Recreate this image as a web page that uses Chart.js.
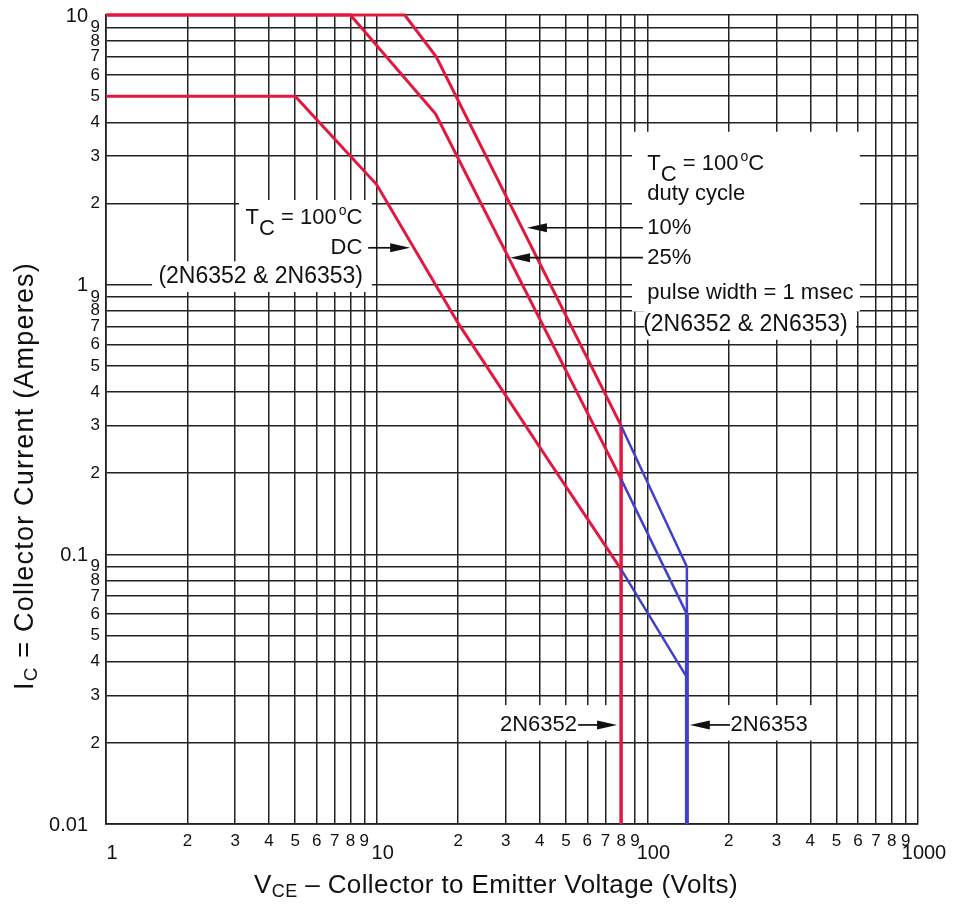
<!DOCTYPE html>
<html>
<head>
<meta charset="utf-8">
<script src="https://cdn.jsdelivr.net/npm/chart.js@4.4.1/dist/chart.umd.min.js"></script>
<style>
  html, body { margin: 0; padding: 0; background: #fff; }
</style>
</head>
<body>
<canvas id="myChart" width="953" height="905"></canvas>
<script>
// tick labels
const xMajor = [1, 10, 100, 1000];
const xMajorLabels = ['1', '10', '100', '1000'];
const yMajor = [0.01, 0.1, 1, 10];
const yMajorLabels = ['0.01', '0.1', '1', '10'];
const minorDigits = [2, 3, 4, 5, 6, 7, 8, 9];

// DC, Tc = 100 C
const dcVolts = [1, 5, 10, 20, 40, 80];
const dcAmps = [5, 5, 2.35, 0.72, 0.25, 0.088];
// 25% duty cycle
const d25Volts = [1, 8, 16.5, 80];
const d25Amps = [10, 10, 4.3, 0.19];
// 10% duty cycle
const d10Volts = [1, 12.7, 16.6, 80];
const d10Amps = [10, 10, 7, 0.3];
// 2N6352 limit (80 V)
const lim52Volts = [80, 80];
const lim52Amps = [0.3, 0.01];
// 2N6353 extension up to 140 V
const ext10Volts = [80, 140, 140];
const ext10Amps = [0.3, 0.09, 0.06];
const ext25Volts = [80, 140];
const ext25Amps = [0.19, 0.06];
const extDcVolts = [80, 140];
const extDcAmps = [0.088, 0.035];
const lim53Volts = [140, 140];
const lim53Amps = [0.06, 0.01];

const RED = '#e4173e';
const BLUE = '#4040cc';
const FONT = "'Liberation Sans', Arial, sans-serif";
const gridColor = '#222';

Chart.defaults.font.family = FONT;

function pts(xs, ys) {
  return xs.map((v, i) => ({ x: v, y: ys[i] }));
}

function decadeTicks(majors) {
  const out = [];
  majors.forEach((m, i) => {
    out.push(m);
    if (i < majors.length - 1) {
      minorDigits.forEach(d => out.push(+(m * d).toPrecision(3)));
    }
  });
  return out.map(v => ({ value: v }));
}

function minorLabel(value) {
  const e = Math.floor(Math.log10(value) + 1e-9);
  const d = Math.round(value / Math.pow(10, e));
  return d === 1 ? '' : String(d);
}

// white areas behind the notes, in data units [x1, x2, yTop, yBottom]
const maskBoxes = [
  [3.1, 9.6, 2.06, 0.94],
  [1.48, 9.6, 1.22, 0.94],
  [87.8, 610, 3.69, 0.795],
  [97.5, 590, 0.8, 0.625],
  [26.2, 77.5, 0.0276, 0.0204],
  [143, 420, 0.0276, 0.0204]
];

function drawTc(ctx, x, yMid, alignRight) {
  const big = '22px ' + FONT, small = '14px ' + FONT;
  const parts = [
    { t: 'T', f: big, dy: 0, gap: 0 },
    { t: 'C', f: big, dy: 11, gap: 0 },
    { t: ' = 100', f: big, dy: 0, gap: 0 },
    { t: 'o', f: small, dy: -9, gap: 2 },
    { t: 'C', f: big, dy: 0, gap: 0 }
  ];
  let total = 0;
  parts.forEach(p => { ctx.font = p.f; p.w = ctx.measureText(p.t).width; total += p.w + p.gap; });
  let cx = alignRight ? x - total : x;
  const base = yMid + 8;
  ctx.textAlign = 'left';
  ctx.textBaseline = 'alphabetic';
  parts.forEach(p => {
    cx += p.gap;
    ctx.font = p.f;
    ctx.fillText(p.t, cx, base + p.dy);
    cx += p.w;
  });
}

function arrow(ctx, x0, x1, yy) {
  const dir = Math.sign(x1 - x0);
  ctx.lineWidth = 1.7;
  ctx.beginPath();
  ctx.moveTo(x0, yy);
  ctx.lineTo(x1 - dir * 14, yy);
  ctx.stroke();
  ctx.beginPath();
  ctx.moveTo(x1, yy);
  ctx.lineTo(x1 - dir * 20, yy - 4.5);
  ctx.lineTo(x1 - dir * 20, yy + 4.5);
  ctx.closePath();
  ctx.fill();
}

// draws pieces of text (for subscripts) centred on 0 along the baseline
function drawPieces(ctx, parts, cxMid, base, spacing) {
  let tw = 0;
  parts.forEach(p => {
    ctx.font = p.f;
    ctx.letterSpacing = spacing + 'px';
    p.w = ctx.measureText(p.t).width;
    tw += p.w;
  });
  let cx = cxMid - tw / 2;
  ctx.textAlign = 'left';
  ctx.textBaseline = 'alphabetic';
  parts.forEach(p => {
    ctx.font = p.f;
    ctx.letterSpacing = spacing + 'px';
    ctx.fillText(p.t, cx, base + p.dy);
    cx += p.w;
  });
  ctx.letterSpacing = '0px';
}

const notesPlugin = {
  id: 'notes',
  beforeDatasetsDraw(chart) {
    const { ctx } = chart;
    const x = chart.scales.x, y = chart.scales.y;
    ctx.save();
    ctx.fillStyle = '#fff';
    maskBoxes.forEach(m => {
      const x1 = x.getPixelForValue(m[0]), x2 = x.getPixelForValue(m[1]);
      const y1 = y.getPixelForValue(m[2]), y2 = y.getPixelForValue(m[3]);
      ctx.fillRect(x1, y1, x2 - x1, y2 - y1);
    });
    ctx.restore();
  },
  afterDatasetsDraw(chart) {
    const { ctx } = chart;
    const x = chart.scales.x, y = chart.scales.y;
    const px = v => x.getPixelForValue(v), py = v => y.getPixelForValue(v);
    ctx.save();
    ctx.fillStyle = '#111';
    ctx.strokeStyle = '#111';

    // left note (DC)
    drawTc(ctx, px(8.85), py(1.8), true);
    ctx.font = '22px ' + FONT;
    ctx.textAlign = 'right';
    ctx.textBaseline = 'middle';
    ctx.fillText('DC', px(8.85), py(1.37));
    ctx.font = '23px ' + FONT;
    ctx.fillText('(2N6352 & 2N6353)', px(8.9), py(1.07));
    arrow(ctx, px(9.3), px(13.3), py(1.37));

    // right note (pulsed)
    drawTc(ctx, px(100), py(2.855), false);
    ctx.font = '22px ' + FONT;
    ctx.textAlign = 'left';
    ctx.textBaseline = 'middle';
    ctx.fillText('duty cycle', px(100), py(2.17));
    ctx.fillText('10%', px(100), py(1.626));
    ctx.fillText('25%', px(100), py(1.259));
    ctx.fillText('pulse width = 1 msec', px(100), py(0.934));
    ctx.font = '23px ' + FONT;
    ctx.fillText('(2N6352 & 2N6353)', px(96.5), py(0.711));
    arrow(ctx, px(96.3), px(35.9), py(1.626));
    arrow(ctx, px(96.3), px(31.1), py(1.259));

    // device limits
    ctx.font = '22px ' + FONT;
    ctx.textAlign = 'right';
    ctx.fillText('2N6352', px(55), py(0.0233));
    arrow(ctx, px(55.5), px(77.3), py(0.0233));
    ctx.textAlign = 'left';
    ctx.fillText('2N6353', px(203), py(0.0233));
    arrow(ctx, px(202), px(143.5), py(0.0233));
    ctx.restore();
  },
  afterDraw(chart) {
    const { ctx } = chart;
    const x = chart.scales.x, y = chart.scales.y;
    ctx.save();
    ctx.fillStyle = '#111';
    ctx.font = '20px ' + FONT;
    ctx.textBaseline = 'middle';
    ctx.textAlign = 'center';
    xMajor.forEach((v, i) => ctx.fillText(xMajorLabels[i], x.getPixelForValue(v) + 6, 853));
    ctx.textAlign = 'right';
    yMajor.forEach((v, i) => ctx.fillText(yMajorLabels[i], 88, y.getPixelForValue(v) + 1));

    // x title with subscript
    drawPieces(ctx, [
      { t: 'V', f: '26px ' + FONT, dy: 0 },
      { t: 'CE', f: '18px ' + FONT, dy: 4 },
      { t: ' \u2013 Collector to Emitter Voltage (Volts)', f: '26px ' + FONT, dy: 0 }
    ], 496, 893, 0.4);

    // y title, rotated
    ctx.translate(33, 476);
    ctx.rotate(-Math.PI / 2);
    drawPieces(ctx, [
      { t: 'I', f: '27px ' + FONT, dy: 0 },
      { t: 'C', f: '19px ' + FONT, dy: 4 },
      { t: ' = Collector Current (Amperes)', f: '27px ' + FONT, dy: 0 }
    ], 0, 0, 1.2);
    ctx.restore();
  }
};

function line(xs, ys, color, width) {
  return {
    data: pts(xs, ys),
    showLine: true,
    borderColor: color,
    backgroundColor: color,
    borderWidth: width,
    pointRadius: 0,
    tension: 0,
    clip: false
  };
}

new Chart(document.getElementById('myChart'), {
  type: 'scatter',
  data: {
    datasets: [
      line(ext10Volts, ext10Amps, BLUE, 2.5),
      line(ext25Volts, ext25Amps, BLUE, 2.5),
      line(extDcVolts, extDcAmps, BLUE, 2.5),
      line(lim53Volts, lim53Amps, BLUE, 4),
      line(dcVolts, dcAmps, RED, 3),
      line(d25Volts, d25Amps, RED, 3),
      line(d10Volts, d10Amps, RED, 3),
      line(lim52Volts, lim52Amps, RED, 3.5)
    ]
  },
  options: {
    responsive: false,
    animation: false,
    layout: { padding: { top: 15, right: 35, left: 0, bottom: 0 } },
    plugins: {
      legend: { display: false },
      tooltip: { enabled: false }
    },
    scales: {
      x: {
        type: 'logarithmic',
        min: 1,
        max: 1000,
        afterBuildTicks: s => { s.ticks = decadeTicks(xMajor); },
        afterFit: s => { s.height = 81; s.paddingLeft = 0; s.paddingRight = 0; },
        grid: { color: gridColor, lineWidth: 1.5, drawTicks: false },
        border: { color: gridColor, width: 1.7 },
        ticks: {
          autoSkip: false,
          maxRotation: 0,
          padding: 7,
          color: '#111',
          font: { size: 17 },
          callback: minorLabel
        }
      },
      y: {
        type: 'logarithmic',
        min: 0.01,
        max: 10,
        afterBuildTicks: s => { s.ticks = decadeTicks(yMajor); },
        afterFit: s => { s.width = 106; s.paddingTop = 0; s.paddingBottom = 0; },
        grid: { color: gridColor, lineWidth: 1.5, drawTicks: false },
        border: { color: gridColor, width: 1.7 },
        ticks: {
          autoSkip: false,
          padding: 6,
          color: '#111',
          font: { size: 17 },
          callback: minorLabel
        }
      }
    }
  },
  plugins: [notesPlugin]
});
</script>
</body>
</html>
